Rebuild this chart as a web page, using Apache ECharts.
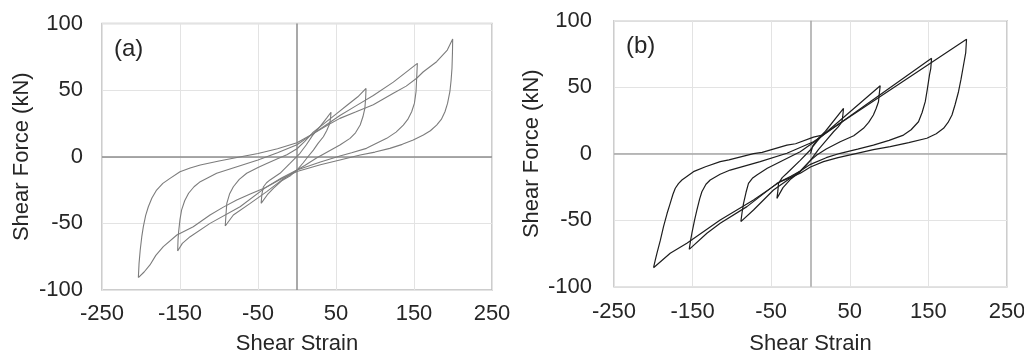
<!DOCTYPE html>
<html>
<head>
<meta charset="utf-8">
<script src="https://cdn.jsdelivr.net/npm/echarts@6/dist/echarts.min.js"></script>
<style>
html,body{margin:0;padding:0;background:#fff;}
#c{width:1024px;height:355px;}
</style>
</head>
<body>
<div id="c"></div>
<script>
// ---------- data ----------
const xTicks = [-250, -150, -50, 50, 150, 250];
const yTicks = [-100, -50, 0, 50, 100];
const xTitle = 'Shear Strain';
const yTitle = 'Shear Force (kN)';
const panelLabels = ['(a)', '(b)'];

// Panel (a) loops: [shear strain, shear force]
const aLoop1 = [[-46,-35],[-45,-28],[-43,-22.5],[-39,-19.5],[-34.6,-17.4],[-21.8,-12.4],[-9,-5],[3.8,2.6],[12,9],[20,16],[30,23],[38,29],[43.6,33.4],
  [43,29],[42,25],[38,19.5],[33.8,15],[27,10],[21,5],[14,0],[8,-4.5],[0,-10],[-8,-14],[-19.6,-18],[-30,-23.5],[-38,-28.5],[-46,-35]];
const aLoop2 = [[-92,-52],[-91,-43],[-90,-35],[-86.5,-28],[-81.6,-22.5],[-74,-17],[-64.5,-12.4],[-50,-8],[-38.8,-5],[-25,-1.5],[-13,1.5],[0,6],[10,11.5],[20,18],[35,25],[50,32],[65,39],[78,45],[88.5,51.3],
  [88,44],[87,36.3],[84.5,30],[81,23.8],[75,18],[68,13.8],[55,8.8],[40,4],[25,-1],[10,-6.5],[0,-10],[-19.6,-17.5],[-38.8,-26.2],[-60,-35],[-81.6,-43.7],[-92,-52]];
const aLoop3 = [[-153,-70.7],[-152.5,-62],[-152,-57.5],[-150,-47],[-148,-40],[-144,-33],[-139,-27.4],[-132,-22.5],[-124,-18.7],[-103,-12.4],[-77,-7.5],[-50,-2.5],[-25,3],[0,9],[20,17],[40,25],[55,31],[75,38],[97.8,46],[123.5,56],[140,63.5],[154.3,70.1],
  [153.5,60],[152.6,48.8],[150.5,40],[147,33.8],[142,28],[136.3,23.8],[127,18.5],[115,13.8],[100,9.5],[89,6.3],[70,3],[55,0.5],[30,-4],[0,-10],[-20,-16],[-40,-23],[-73,-37.5],[-111.5,-50],[-137,-60],[-147,-65],[-153,-70.7]];
const aLoop4 = [[-203.4,-90.7],[-202.5,-80],[-201,-70],[-199,-60],[-197,-52.5],[-194,-44],[-190.6,-37.5],[-186,-31],[-180,-25],[-172,-20],[-162.8,-16.2],[-150,-11.2],[-137,-8.5],[-124,-6.2],[-100,-3.2],[-77,-0.5],[-50,2.5],[-25,6],[0,10.5],[20,17],[40,24],[55,28.8],[75,33.5],[97.8,39],[123.5,47.6],[140,53],[153.4,58.9],[162,63.8],[179,71.3],[192.7,80.1],[199.6,88.4],
  [199.3,78],[198.7,66.4],[197.5,57],[196,48.8],[193,40],[189.7,33.8],[185,28],[179,23.8],[171,19.5],[162,16.3],[149,12.6],[135,9.3],[119,6.3],[100,3.5],[81,1.3],[55,-2.4],[30,-6],[0,-11],[-20,-16.5],[-40,-23],[-60,-28],[-77.3,-32.5],[-95,-38],[-111.5,-43.7],[-133,-52.5],[-154,-58.7],[-171.4,-67.5],[-181,-74],[-188.5,-81.2],[-196,-86.5],[-203.4,-90.7]];

// Panel (b) loops
const bLoop1 = [[0,0],[3,6],[10,11.5],[20,17.5],[42,34.1],
  [41,28],[40,24],[35,20],[29.3,16.5],[20,10],[10,3],[0,-5],[-13,-13.5],[-25,-19],[-35,-25.5],[-42.7,-33.6],
  [-41.5,-28],[-40.7,-22.3],[-36,-18],[-30,-14.7],[-13.1,-5],[0,3],[8,9],[15,14],[42,34.1]];
const bLoop2 = [[-88.6,-51.1],[-87,-44],[-85.2,-37.3],[-82,-29],[-78.9,-22.3],[-74,-18.5],[-68.2,-16],[-55,-11],[-38.5,-6],[-13.1,1.5],[8.1,10.3],[15,13.5],[88.7,51.1],
  [87.5,45],[86.5,39.1],[83.5,34],[80,29.1],[74,23.5],[67.4,19.1],[55,13.5],[37.8,9],[20,3.5],[8,-1],[0,-5],[-13,-13],[-25,-18],[-47.1,-27.3],[-72.5,-42.3],[-88.6,-51.1]];
const bLoop3 = [[-154.3,-71.9],[-152.5,-65],[-150.9,-59.8],[-147.5,-50],[-144.5,-42.3],[-141,-34],[-138.2,-28.6],[-133,-23],[-127.6,-19.8],[-115,-15.5],[-102.2,-12.3],[-64,-6],[-30,0.3],[3.8,9],[15,13.5],[154,71.7],
  [153,64],[151.4,59.2],[148.5,48],[146,39.1],[142,31],[137.4,24],[128,18],[118.3,14],[100,10],[80,6.5],[60,3.5],[37.8,0.3],[20,-3],[0,-8],[-13,-13],[-25,-17],[-42.7,-22.3],[-80.9,-39.8],[-114.9,-52.3],[-131.8,-59.8],[-154.3,-71.9]];
const bLoop4 = [[-199.7,-85.7],[-197.5,-80],[-195.4,-74.9],[-191,-65],[-187,-54.9],[-182.5,-45],[-178.5,-37.3],[-175,-30.5],[-172,-26],[-168,-22.5],[-163.6,-19.8],[-148.9,-13.5],[-133.6,-9.8],[-114.9,-6],[-103.8,-4.7],[-72.5,0],[-61.5,1],[-30,6.5],[-19,7.5],[3.8,12.5],[15,14],[198.5,86],
  [197.5,76],[194.7,66.7],[191.5,56],[188.3,46.6],[184,37],[180,29.1],[175,23.5],[169.3,19.1],[160,15],[148,11.6],[125,8.3],[101.4,5.3],[80,3],[59,0.3],[35,-3],[16.5,-6],[0,-10],[-13,-14.7],[-25.8,-18],[-38.5,-21],[-72.5,-34.8],[-114.9,-49.8],[-157.3,-67.4],[-178.5,-74.9],[-199.7,-85.7]];

const aLoops = [aLoop1, aLoop2, aLoop3, aLoop4];
const bLoops = [bLoop1, bLoop2, bLoop3, bLoop4];

// ---------- chart ----------
const FONT = '"Liberation Sans", Arial, Helvetica, sans-serif';
const TXT = '#262626';
const xMin = xTicks[0], xMax = xTicks[xTicks.length - 1], xInt = xTicks[1] - xTicks[0];
const yMin = yTicks[0], yMax = yTicks[yTicks.length - 1], yInt = yTicks[1] - yTicks[0];

const grids = [
  {left: 102, top: 23.5, width: 390, height: 266.5},
  {left: 614, top: 20.7, width: 393, height: 266}
];
const gridCfg = grids.map(g => Object.assign({show: true, borderColor: '#bdbdbd', borderWidth: 1.5, backgroundColor: 'transparent', containLabel: false, outerBoundsMode: 'none'}, g));

function xAxisCfg(i, gap, margin) {
  return {
    type: 'value', gridIndex: i, min: xMin, max: xMax, interval: xInt,
    name: xTitle, nameLocation: 'middle', nameGap: gap,
    nameTextStyle: {fontSize: 22, color: TXT, fontFamily: FONT},
    axisLine: {show: false}, axisTick: {show: false},
    axisLabel: {fontSize: 22, color: TXT, fontFamily: FONT, margin: margin, showMinLabel: true, showMaxLabel: true, hideOverlap: false},
    splitLine: {show: true, lineStyle: {color: '#e3e3e3', width: 1}}
  };
}
function yAxisCfg(i, gap, margin) {
  return {
    type: 'value', gridIndex: i, min: yMin, max: yMax, interval: yInt,
    name: yTitle, nameLocation: 'middle', nameGap: gap, nameRotate: 90,
    nameTextStyle: {fontSize: 22, color: TXT, fontFamily: FONT},
    axisLine: {show: false}, axisTick: {show: false},
    axisLabel: {fontSize: 22, color: TXT, fontFamily: FONT, margin: margin, showMinLabel: true, showMaxLabel: true, hideOverlap: false},
    splitLine: {show: true, lineStyle: {color: '#e3e3e3', width: 1}}
  };
}

const series = [];
function addLoops(loops, idx, color, width, zeroColor) {
  loops.forEach((loop, k) => {
    const s = {
      type: 'line', xAxisIndex: idx, yAxisIndex: idx, data: loop,
      symbol: 'none', showSymbol: false, smooth: false, silent: true, animation: false,
      lineStyle: {color: color, width: width}, z: 3
    };
    if (k === 0) {
      s.markLine = {
        silent: true, symbol: 'none', animation: false, label: {show: false},
        lineStyle: {color: zeroColor, width: 1.5, type: 'solid'},
        data: [{xAxis: 0}, {yAxis: 0}], z: 2
      };
    }
    series.push(s);
  });
}
addLoops(aLoops, 0, '#7c7c7c', 1.1, '#8c8c8c');
addLoops(bLoops, 1, '#1e1e1e', 1.2, '#a6a6a6');

const chart = echarts.init(document.getElementById('c'), null, {renderer: 'canvas'});
chart.setOption({
  animation: false,
  backgroundColor: '#ffffff',
  grid: gridCfg,
  xAxis: [xAxisCfg(0, 43, 13), xAxisCfg(1, 46, 14)],
  yAxis: [yAxisCfg(0, 69, 19), yAxisCfg(1, 71, 22)],
  series: series,
  graphic: [
    {type: 'text', left: 114, top: 37, style: {text: panelLabels[0], fontSize: 24, fill: TXT, fontFamily: FONT}},
    {type: 'text', left: 626, top: 34, style: {text: panelLabels[1], fontSize: 24, fill: TXT, fontFamily: FONT}}
  ]
});
</script>
</body>
</html>
